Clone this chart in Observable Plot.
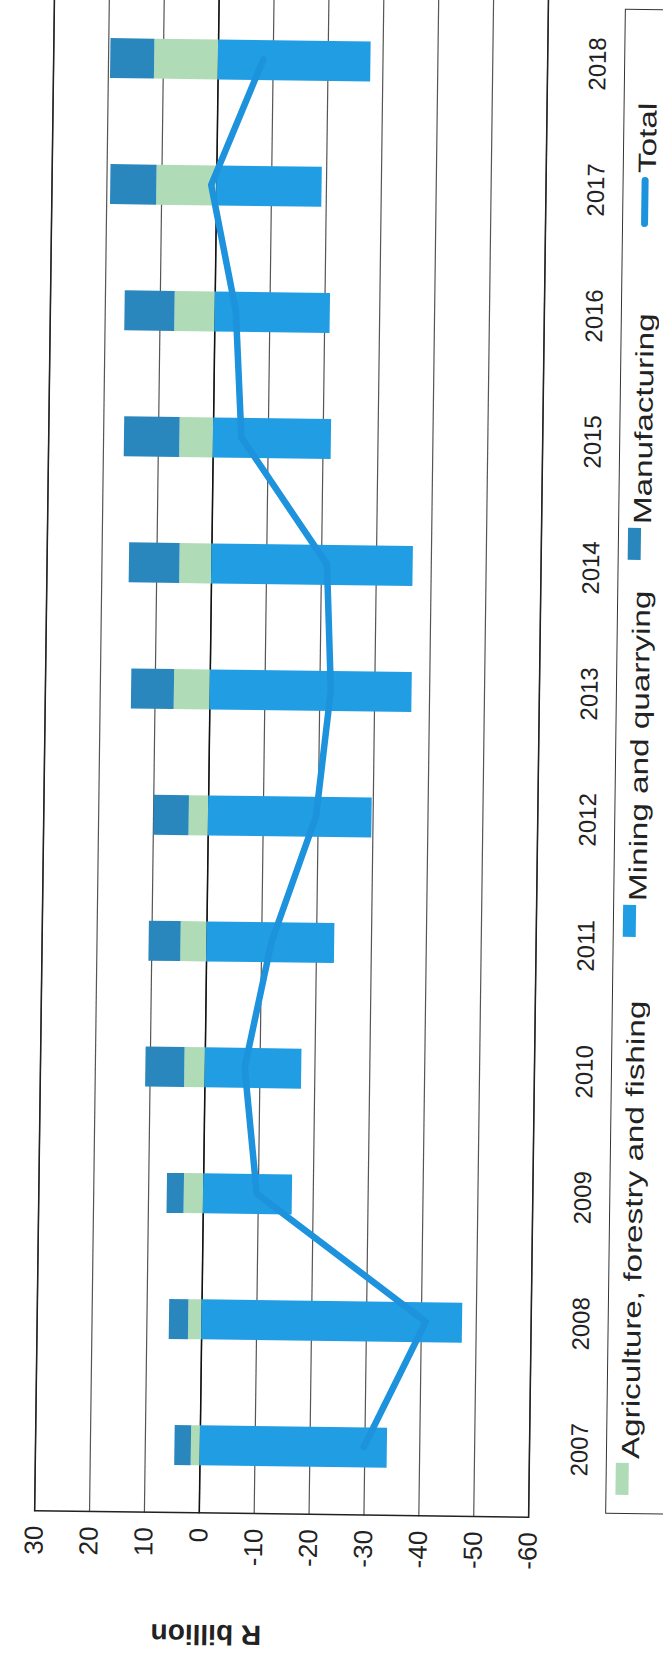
<!DOCTYPE html>
<html>
<head>
<meta charset="utf-8">
<script src="https://cdn.jsdelivr.net/npm/d3@7"></script>
<script src="https://cdn.jsdelivr.net/npm/@observablehq/plot@0.6"></script>
<style>
  html, body { margin: 0; padding: 0; background: #fff; }
  #page { position: relative; width: 663px; height: 1665px; overflow: hidden; background: #fff; }
  #skew { position: absolute; left: 0; top: 0; width: 663px; height: 1665px; transform-origin: 331px 760px; transform: rotate(0.75deg); }
  #chart { position: absolute; left: 0; top: 0; width: 1672px; height: 700px; transform-origin: 0 0; transform: translate(0px, 1665px) rotate(-90deg); font-family: "Liberation Sans", Arial, sans-serif; }
  #legend { position: absolute; left: 155px; top: 615px; width: 1505px; height: 90px; border: 1.5px solid #333; box-sizing: border-box; }
  .sw { position: absolute; }
  .lt { position: absolute; font-size: 25px; line-height: 25px; color: #222; white-space: nowrap; transform-origin: 0 50%; transform: scaleX(1.33); }
</style>
</head>
<body>
<div id="page"><div id="skew"><div id="chart"></div></div></div>
<script>
const years = ["2007","2008","2009","2010","2011","2012","2013","2014","2015","2016","2017","2018"];
const agriculture   = [1.6, 2.4, 3.5, 3.7, 4.7, 3.5, 6.5, 5.8, 6.1, 7.3, 10.9, 11.6];
const mining        = [-34.1, -47.5, -16.2, -17.6, -23.3, -29.8, -36.8, -36.7, -21.5, -21.0, -19.2, -27.8];
const manufacturing = [3.0, 3.5, 3.1, 7.1, 5.8, 6.4, 7.8, 9.2, 10.1, 9.1, 8.4, 8.0];
const total         = [-29.8, -40.8, -9.7, -7.2, -11.8, -19.6, -22.0, -21.0, -5.1, -3.8, 1.0, -8.2];
const sectors = ["Agriculture, forestry and fishing", "Mining and quarrying", "Manufacturing"];
const sectorColors = ["#afdbb6", "#219de3", "#2a87bd"];
const totalLabel = "Total";
const totalColor = "#1d92dd";
const valueTicks = [30, 20, 10, 0, -10, -20, -30, -40, -50, -60];
const axisTitle = "R billion";

const rows = [];
years.forEach((y, i) => {
  rows.push({year: y, sector: sectors[0], value: agriculture[i]});
  rows.push({year: y, sector: sectors[1], value: mining[i]});
  rows.push({year: y, sector: sectors[2], value: manufacturing[i]});
});
const totals = years.map((y, i) => ({year: y, value: total[i]}));

const svg = Plot.plot({
  width: 1672,
  height: 600,
  marginLeft: 150,
  marginRight: 0,
  marginTop: 44,
  marginBottom: 62,
  style: {fontFamily: "Liberation Sans, Arial, sans-serif", background: "#fff", color: "#222", overflow: "visible"},
  x: {type: "band", domain: years, paddingInner: 0.685, paddingOuter: 0.3425, label: null},
  y: {domain: [-60, 30], label: null},
  color: {domain: sectors, range: sectorColors},
  marks: [
    Plot.gridY(valueTicks, {stroke: "#555", strokeOpacity: 1, strokeWidth: 1.2}),
    Plot.ruleY([0], {stroke: "#111", strokeWidth: 1.5}),
    Plot.barY(rows, {x: "year", y: "value", fill: "sector", order: sectors}),
    Plot.lineY(totals, {x: "year", y: "value", stroke: totalColor, strokeWidth: 6.5}),
    Plot.frame({stroke: "#222", strokeWidth: 1.5}),
    Plot.axisX({tickSize: 0, tickPadding: 41, fontSize: 24}),
    Plot.axisY(valueTicks, {tickSize: 0, tickPadding: 15, fontSize: 26, tickFormat: d => String(d), label: null}),
    Plot.text([axisTitle], {frameAnchor: "left", dx: -121, dy: -19, rotate: -90, fontWeight: "bold", fontSize: 28, fill: "#222"})
  ]
});
const chart = document.getElementById("chart");
chart.appendChild(svg);

// legend (below the plot, in the chart's own orientation)
const legend = document.createElement("div");
legend.id = "legend";
chart.appendChild(legend);
const legendItems = [
  {label: sectors[0], color: sectorColors[0], textLeft: 54, kind: "box"},
  {label: sectors[1], color: sectorColors[1], textLeft: 612, kind: "box"},
  {label: sectors[2], color: sectorColors[2], textLeft: 989, kind: "box"},
  {label: totalLabel, color: totalColor, textLeft: 1340, kind: "line"}
];
legendItems.forEach(it => {
  const sw = document.createElement("div");
  sw.className = "sw";
  if (it.kind === "box") {
    sw.style.left = (it.textLeft - 36) + "px";
    sw.style.width = "32px";
    sw.style.top = "9px";
    sw.style.height = "13px";
  } else {
    sw.style.left = (it.textLeft - 54) + "px";
    sw.style.width = "50px";
    sw.style.top = "18px";
    sw.style.height = "7px";
    sw.style.borderRadius = "4px";
  }
  sw.style.background = it.color;
  legend.appendChild(sw);
  const t = document.createElement("div");
  t.className = "lt";
  t.style.left = it.textLeft + "px";
  t.style.top = "11px";
  t.textContent = it.label;
  legend.appendChild(t);
});
</script>
</body>
</html>
